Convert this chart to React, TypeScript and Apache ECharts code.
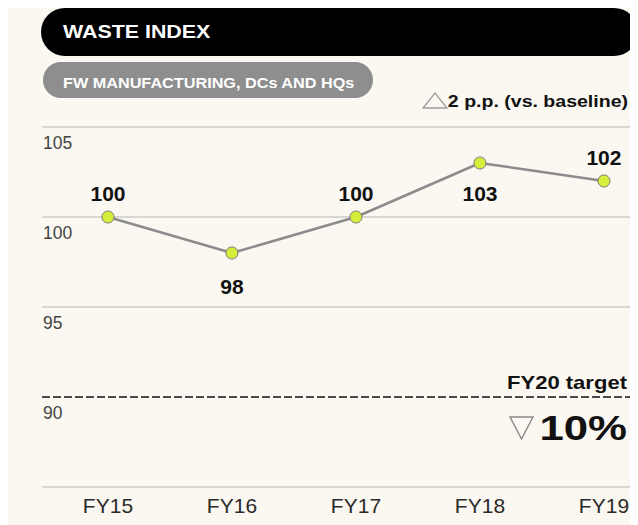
import React, { useEffect, useRef } from "react";
import * as echarts from "echarts";

const categories = ["FY15", "FY16", "FY17", "FY18", "FY19"];
const values = [100, 98, 100, 103, 102];
const labelSides = ["top", "bottom", "top", "bottom", "top"];
const targetValue = 90;
const titleText = "WASTE INDEX";
const subtitleText = "FW MANUFACTURING, DCs AND HQs";
const changeText = "2 p.p. (vs. baseline)";
const targetLabel = "FY20 target";
const targetText = "10%";

const FONT = "'Liberation Sans', Arial, Helvetica, sans-serif";
const GRID = "#d9d7d1";

export default function App() {
  const ref = useRef<HTMLDivElement>(null);
  useEffect(() => {
    const chart = echarts.init(ref.current!, null, { renderer: "svg" });
    const data = values.map((v, i) => ({
      value: [i, v],
      label: {
        position: labelSides[i],
        distance: labelSides[i] === "top" ? 7 : i === 1 ? 16 : 13,
      },
    }));
    chart.setOption({
      animation: false,
      backgroundColor: "#fbf8f1",
      textStyle: { fontFamily: FONT },
      grid: { left: 34, right: 8, top: 119, height: 360 },
      xAxis: {
        type: "value",
        min: -0.532,
        max: 4.21,
        axisLine: { show: false },
        axisTick: { show: false },
        splitLine: { show: false },
        axisLabel: {
          customValues: [0, 1, 2, 3, 4],
          formatter: (v: number) => categories[Math.round(v)] ?? "",
          color: "#2a2a2a",
          fontSize: 21,
          margin: 8,
          fontFamily: FONT,
        },
      },
      yAxis: {
        type: "value",
        min: 85,
        max: 105,
        interval: 5,
        axisLine: { show: false },
        axisTick: { show: false },
        splitLine: {
          show: true,
          lineStyle: {
            color: [GRID, "rgba(0,0,0,0)", GRID, GRID, GRID],
            width: 2,
          },
        },
        axisLabel: {
          inside: true,
          align: "left",
          verticalAlign: "top",
          padding: [7, 0, 0, 0],
          margin: 1,
          color: "#444",
          fontSize: 17.5,
          fontFamily: FONT,
          formatter: (v: number) => (v === 85 ? "" : String(v)),
        },
      },
      series: [
        {
          type: "line",
          data,
          symbol: "circle",
          symbolSize: 12,
          lineStyle: { color: "#8c8c8c", width: 2.5 },
          itemStyle: { color: "#d6ee3a", borderColor: "#7a7a7a", borderWidth: 1 },
          label: {
            show: true,
            formatter: (p: any) => String(p.value[1]),
            color: "#111",
            fontSize: 21,
            fontWeight: "bold",
            fontFamily: FONT,
          },
          markLine: {
            silent: true,
            symbol: ["none", "none"],
            label: { show: false },
            lineStyle: { type: [8, 3], color: "#4a4a4a", width: 2 },
            data: [{ yAxis: targetValue }],
          },
        },
      ],
      graphic: [
        {
          type: "rect",
          shape: { x: 33, y: 0, width: 597, height: 48, r: 24 },
          style: { fill: "#000" },
        },
        {
          type: "text",
          x: 55,
          y: 24,
          scaleX: 1.15,
          style: {
            text: titleText,
            fill: "#fff",
            font: `bold 18.6px ${FONT}`,
            verticalAlign: "middle",
          },
        },
        {
          type: "rect",
          shape: { x: 35, y: 54, width: 330, height: 36, r: 18 },
          style: { fill: "#8e8e8e" },
        },
        {
          type: "text",
          x: 55,
          y: 75,
          scaleX: 1.12,
          style: {
            text: subtitleText,
            fill: "#fff",
            font: `bold 14.5px ${FONT}`,
            verticalAlign: "middle",
          },
        },
        {
          type: "polygon",
          shape: { points: [[415, 100], [439, 100], [427, 85]] },
          style: { fill: "none", stroke: "#9a9a9a", lineWidth: 1.3 },
        },
        {
          type: "text",
          x: 620,
          y: 93,
          scaleX: 1.15,
          style: {
            text: changeText,
            align: "right",
            verticalAlign: "middle",
            fill: "#111",
            font: `bold 17px ${FONT}`,
          },
        },
        {
          type: "text",
          x: 619,
          y: 375,
          scaleX: 1.26,
          style: {
            text: targetLabel,
            align: "right",
            verticalAlign: "middle",
            fill: "#111",
            font: `bold 17.5px ${FONT}`,
          },
        },
        {
          type: "polygon",
          shape: { points: [[502, 409], [525, 409], [513.5, 431]] },
          style: { fill: "none", stroke: "#888", lineWidth: 1.4 },
        },
        {
          type: "text",
          x: 619,
          y: 420,
          scaleX: 1.25,
          style: {
            text: targetText,
            align: "right",
            verticalAlign: "middle",
            fill: "#111",
            font: `bold 35px ${FONT}`,
          },
        },
      ],
    });
    return () => chart.dispose();
  }, []);
  return <div ref={ref} style={{ width: 630, height: 517 }} />;
}
